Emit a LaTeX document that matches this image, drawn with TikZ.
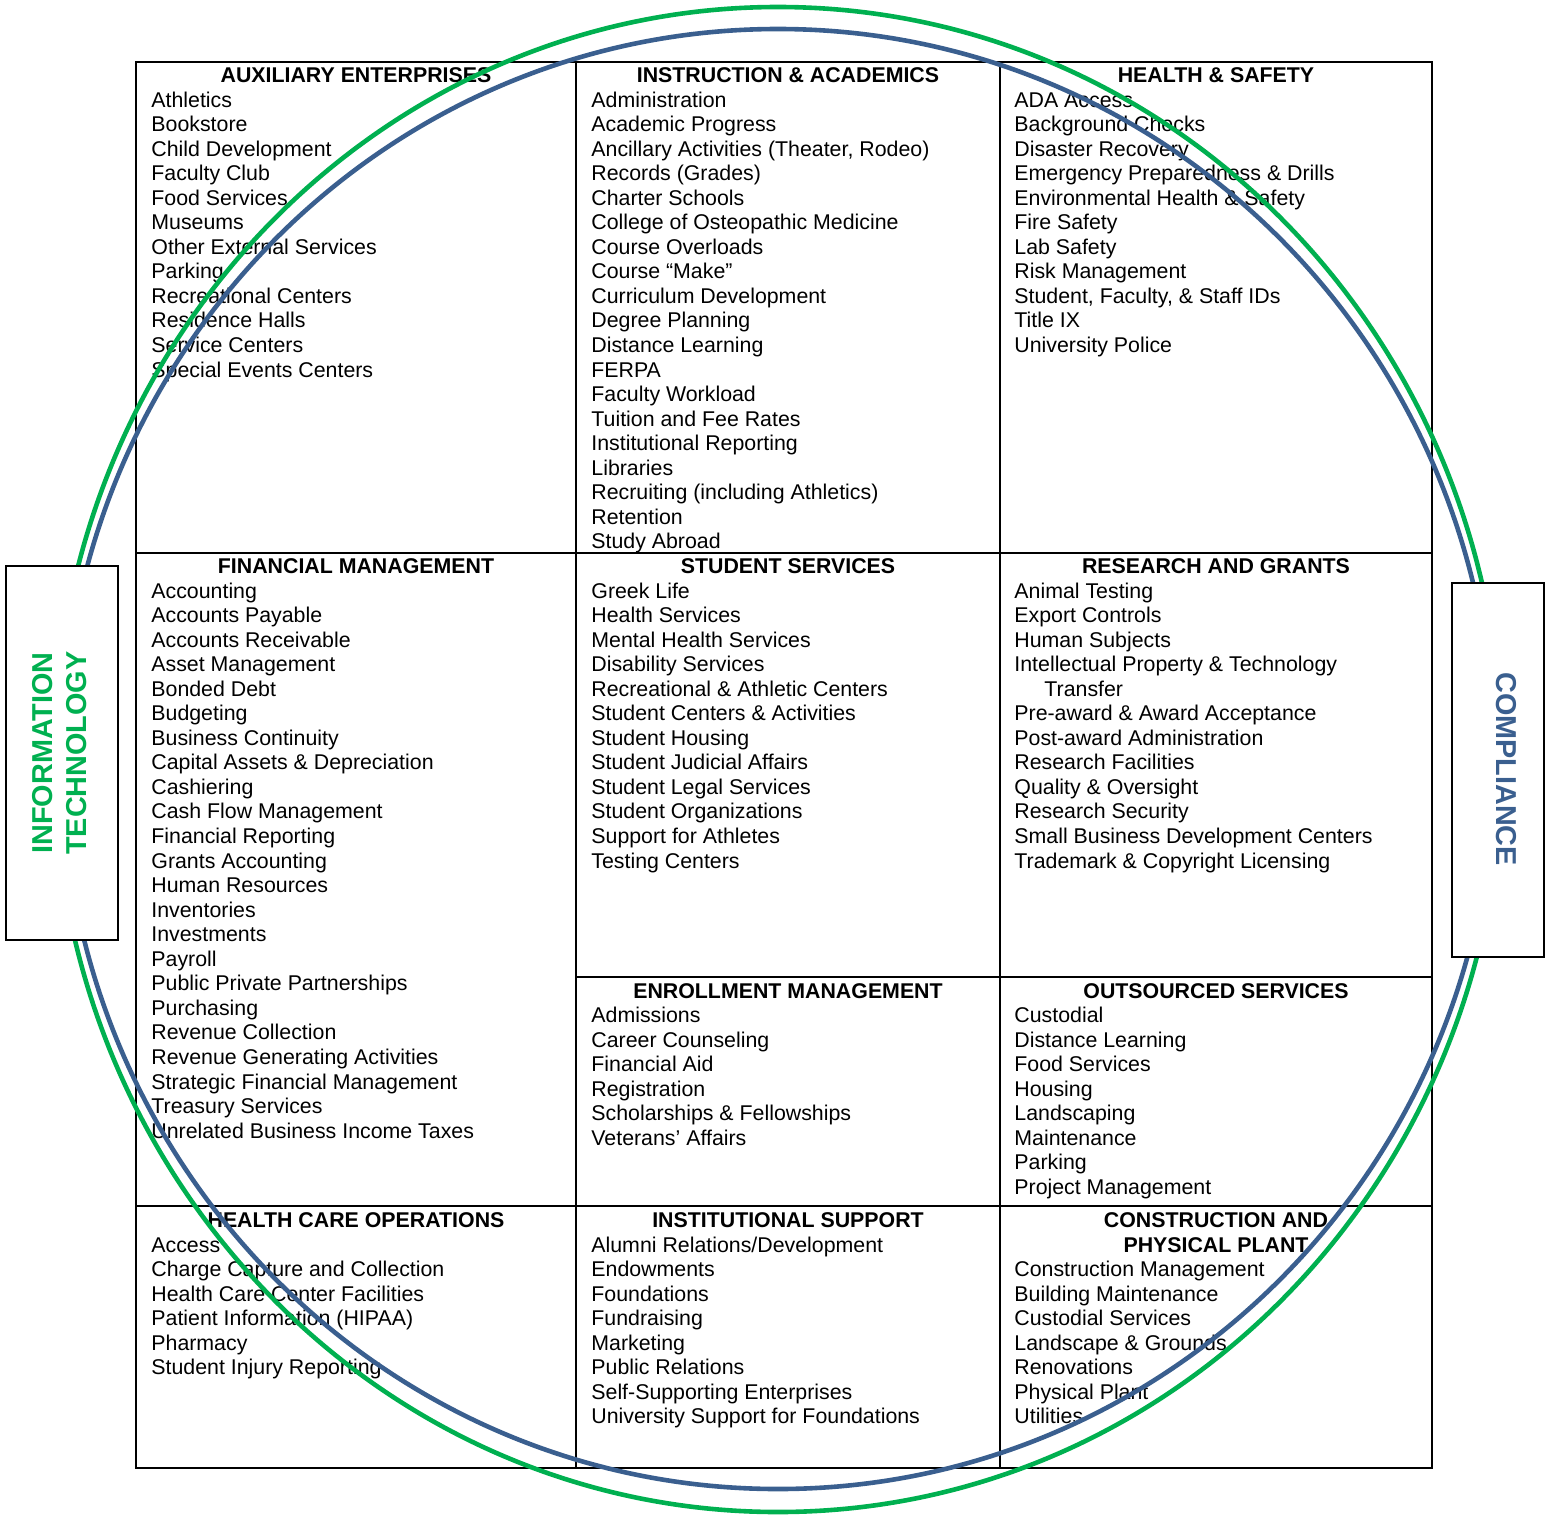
\documentclass[tikz,border=0pt]{standalone}
\usepackage{fontspec}
\setmainfont{Liberation Sans}
\definecolor{ringgreen}{HTML}{00B050}
\definecolor{ringblue}{HTML}{3A5F8F}
\newcommand\itemfont{\fontsize{10.67pt}{12.27pt}\selectfont}
\newcommand\sidefont{\fontsize{14.4pt}{17pt}\selectfont\bfseries}
\newcommand\cellitems[4]{%
  \foreach \itm [count=\i from 0] in {#4} {\node[item] (#1-\i) at (#2, {#3+24.55*\i}) {\itm};}}
\begin{document}
\begin{tikzpicture}[x=0.5pt,y=-0.5pt,
  item/.style={anchor=base west, inner sep=0pt, font=\itemfont},
  ttl/.style={anchor=base, inner sep=0pt, font=\itemfont\bfseries},
  gridline/.style={draw=black, line width=1pt},
  ring/.style={line width=2.3pt},
  sidebox/.style={draw=black, fill=white, line width=1pt, inner sep=0pt}]
\useasboundingbox (0,0) rectangle (1551,1515);
% grid
\draw[gridline] (136,62) rectangle (1432,1468);
\draw[gridline] (576,62) -- (576,1468);
\draw[gridline] (1000,62) -- (1000,1468);
\draw[gridline] (136,553) -- (1432,553);
\draw[gridline] (576,977) -- (1432,977);
\draw[gridline] (136,1206) -- (1432,1206);
% titles
\node[ttl] (t11) at (356,82.5) {AUXILIARY ENTERPRISES};
\node[ttl] (t12) at (788,82.5) {INSTRUCTION \& ACADEMICS};
\node[ttl] (t13) at (1216,82.5) {HEALTH \& SAFETY};
\node[ttl] (t21) at (356,573.5) {FINANCIAL MANAGEMENT};
\node[ttl] (t22) at (788,573.5) {STUDENT SERVICES};
\node[ttl] (t23) at (1216,573.5) {RESEARCH AND GRANTS};
\node[ttl] (t32) at (788,998) {ENROLLMENT MANAGEMENT};
\node[ttl] (t33) at (1216,998) {OUTSOURCED SERVICES};
\node[ttl] (t41) at (356,1227.5) {HEALTH CARE OPERATIONS};
\node[ttl] (t42) at (788,1227.5) {INSTITUTIONAL SUPPORT};
\node[ttl] (t43a) at (1216,1227.5) {CONSTRUCTION AND};
\node[ttl] (t43b) at (1216,1252.05) {PHYSICAL PLANT};
% items
\cellitems{aux}{151}{107}{Athletics, Bookstore, Child Development, Faculty Club, Food Services, Museums, Other External Services, Parking, Recreational Centers, Residence Halls, Service Centers, Special Events Centers}
\cellitems{ins}{591}{107}{Administration, Academic Progress, {Ancillary Activities (Theater, Rodeo)}, Records (Grades), Charter Schools, College of Osteopathic Medicine, Course Overloads, Course “Make”, Curriculum Development, Degree Planning, Distance Learning, FERPA, Faculty Workload, Tuition and Fee Rates, Institutional Reporting, Libraries, Recruiting (including Athletics), Retention, Study Abroad}
\cellitems{hs}{1014}{107}{ADA Access, Background Checks, Disaster Recovery, Emergency Preparedness \& Drills, Environmental Health \& Safety, Fire Safety, Lab Safety, Risk Management, {Student, Faculty, \& Staff IDs}, Title IX, University Police}
\cellitems{fin}{151}{598}{Accounting, Accounts Payable, Accounts Receivable, Asset Management, Bonded Debt, Budgeting, Business Continuity, Capital Assets \& Depreciation, Cashiering, Cash Flow Management, Financial Reporting, Grants Accounting, Human Resources, Inventories, Investments, Payroll, Public Private Partnerships, Purchasing, Revenue Collection, Revenue Generating Activities, Strategic Financial Management, Treasury Services, Unrelated Business Income Taxes}
\cellitems{stu}{591}{598}{Greek Life, Health Services, Mental Health Services, Disability Services, Recreational \& Athletic Centers, Student Centers \& Activities, Student Housing, Student Judicial Affairs, Student Legal Services, Student Organizations, Support for Athletes, Testing Centers}
\cellitems{res}{1014}{598}{Animal Testing, Export Controls, Human Subjects, Intellectual Property \& Technology, \hspace*{15pt}Transfer, Pre-award \& Award Acceptance, Post-award Administration, Research Facilities, Quality \& Oversight, Research Security, Small Business Development Centers, Trademark \& Copyright Licensing}
\cellitems{enr}{591}{1022.5}{Admissions, Career Counseling, Financial Aid, Registration, Scholarships \& Fellowships, Veterans’ Affairs}
\cellitems{out}{1014}{1022.5}{Custodial, Distance Learning, Food Services, Housing, Landscaping, Maintenance, Parking, Project Management}
\cellitems{hco}{151}{1252}{Access, Charge Capture and Collection, Health Care Center Facilities, Patient Information (HIPAA), Pharmacy, Student Injury Reporting}
\cellitems{ist}{591}{1252}{Alumni Relations/Development, Endowments, Foundations, Fundraising, Marketing, Public Relations, Self-Supporting Enterprises, University Support for Foundations}
\cellitems{con}{1014}{1276.6}{Construction Management, Building Maintenance, Custodial Services, Landscape \& Grounds, Renovations, Physical Plant, Utilities}
% rings
\draw[ring, ringgreen] (778,759.5) ellipse [x radius=724, y radius=752.5];
\draw[ring, ringblue] (778,759) ellipse [x radius=716, y radius=730];
% side boxes
\node[sidebox, minimum width=56pt, minimum height=187pt] (itbox) at (62,753) {};
\node[rotate=90, text=ringgreen, font=\sidefont, align=center, inner sep=0pt] (ittext) at (60,753) {INFORMATION\\TECHNOLOGY};
\node[sidebox, minimum width=46pt, minimum height=187pt] (cobox) at (1498,770) {};
\node[rotate=-90, text=ringblue, font=\sidefont, inner sep=0pt] (cotext) at (1506,769) {COMPLIANCE};
\end{tikzpicture}
\end{document}
